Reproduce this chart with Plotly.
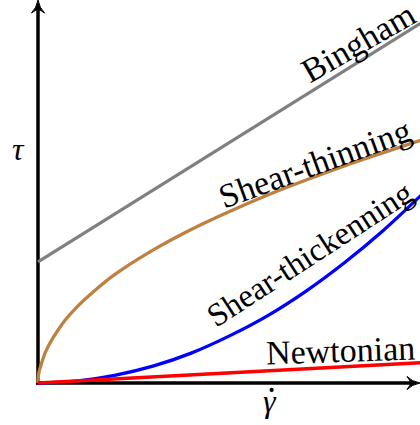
import plotly.graph_objects as go

# Flow curves: shear stress (tau) against shear rate (gamma-dot), arbitrary units
bingham_x = [0.0, 1.0]
bingham_y = [0.316, 0.940]

thinning_x = [0.0, 0.0025, 0.01, 0.02, 0.04, 0.07, 0.1, 0.15, 0.2, 0.3, 0.4, 0.5, 0.6, 0.7, 0.8, 0.9, 1.0]
thinning_y = [0.0, 0.028, 0.054, 0.082, 0.119, 0.163, 0.197, 0.243, 0.283, 0.347, 0.401, 0.448, 0.491, 0.530, 0.567, 0.601, 0.634]

thickening_x = [0.0, 0.1, 0.2, 0.3, 0.4, 0.5, 0.6, 0.7, 0.8, 0.9, 1.0]
thickening_y = [0.0, 0.005, 0.020, 0.044, 0.078, 0.123, 0.176, 0.240, 0.314, 0.397, 0.490]

newtonian_x = [0.0, 1.0]
newtonian_y = [0.0, 0.053]

curve_names = ["Bingham", "Shear-thinning", "Shear-thickenning", "Newtonian"]
curve_colors = ["#808080", "#bf8040", "#0000ff", "#ff0000"]

SERIF = "Liberation Serif"

fig = go.Figure()
series = [
    (bingham_x, bingham_y, "linear"),
    (thinning_x, thinning_y, "spline"),
    (thickening_x, thickening_y, "spline"),
    (newtonian_x, newtonian_y, "linear"),
]
for (xs, ys, shape), name, color in zip(series, curve_names, curve_colors):
    fig.add_trace(go.Scatter(
        x=xs, y=ys, mode="lines", name=name,
        line=dict(color=color, width=3.3, shape=shape, smoothing=0.8),
        hoverinfo="skip",
    ))

# Axis lines
x_end = 0.975
y_end = 0.975
fig.add_shape(type="line", x0=0, y0=-0.0046, x1=0, y1=y_end,
              line=dict(color="black", width=3.5), layer="below")
fig.add_shape(type="line", x0=-0.0046, y0=0, x1=x_end, y1=0,
              line=dict(color="black", width=3.5), layer="below")

# Arrowheads (pixel-sized paths anchored at the axis tips)
up_head = "M 0 0 Q -1.5 -8 -6.5 -13 Q -2 -9.5 0 -9.5 Q 2 -9.5 6.5 -13 Q 1.5 -8 0 0 Z"
right_head = "M 0 0 Q -8 1.5 -13 6.5 Q -9.5 2 -9.5 0 Q -9.5 -2 -13 -6.5 Q -8 -1.5 0 0 Z"
fig.add_shape(type="path", path=up_head, xsizemode="pixel", ysizemode="pixel",
              xanchor=0, yanchor=1.0, fillcolor="black", line=dict(color="black", width=1))
fig.add_shape(type="path", path=right_head, xsizemode="pixel", ysizemode="pixel",
              xanchor=0.9974, yanchor=0, fillcolor="black", line=dict(color="black", width=1))

# Curve labels along each curve: (text, x, y, angle, size)
labels = [
    ("Bingham", 0.836, 0.889, -30, 34),
    ("Shear-thinning", 0.722, 0.574, -20, 34),
    ("Shear-thickenning", 0.710, 0.336, -33, 32.5),
    ("Newtonian", 0.789, 0.086, -2, 34),
]
for text, lx, ly, ang, size in labels:
    fig.add_annotation(x=lx, y=ly, text=text, showarrow=False, textangle=ang,
                       xanchor="center", yanchor="middle",
                       font=dict(family=SERIF, size=size, color="black"))

# Axis symbols: tau, and gamma with an overdot for the shear rate
fig.add_annotation(x=-0.052, y=0.612, text="<i>τ</i>", showarrow=False,
                   font=dict(family=SERIF, size=32, color="black"))
fig.add_annotation(x=0.606, y=-0.046, text="<i>γ</i>", showarrow=False,
                   font=dict(family=SERIF, size=32, color="black"))
fig.add_shape(type="circle", xsizemode="pixel", ysizemode="pixel",
              xanchor=0.610, yanchor=-0.018, x0=-2.1, x1=2.1, y0=-2.1, y1=2.1,
              fillcolor="black", line=dict(width=0))

fig.update_layout(
    width=420, height=425,
    margin=dict(l=0, r=0, t=0, b=0),
    paper_bgcolor="white", plot_bgcolor="white",
    showlegend=False,
    xaxis=dict(range=[-38 / 383, 382 / 383], visible=False, fixedrange=True),
    yaxis=dict(range=[-42 / 383, 1.0], visible=False, fixedrange=True),
)

fig.write_html("out.html")
